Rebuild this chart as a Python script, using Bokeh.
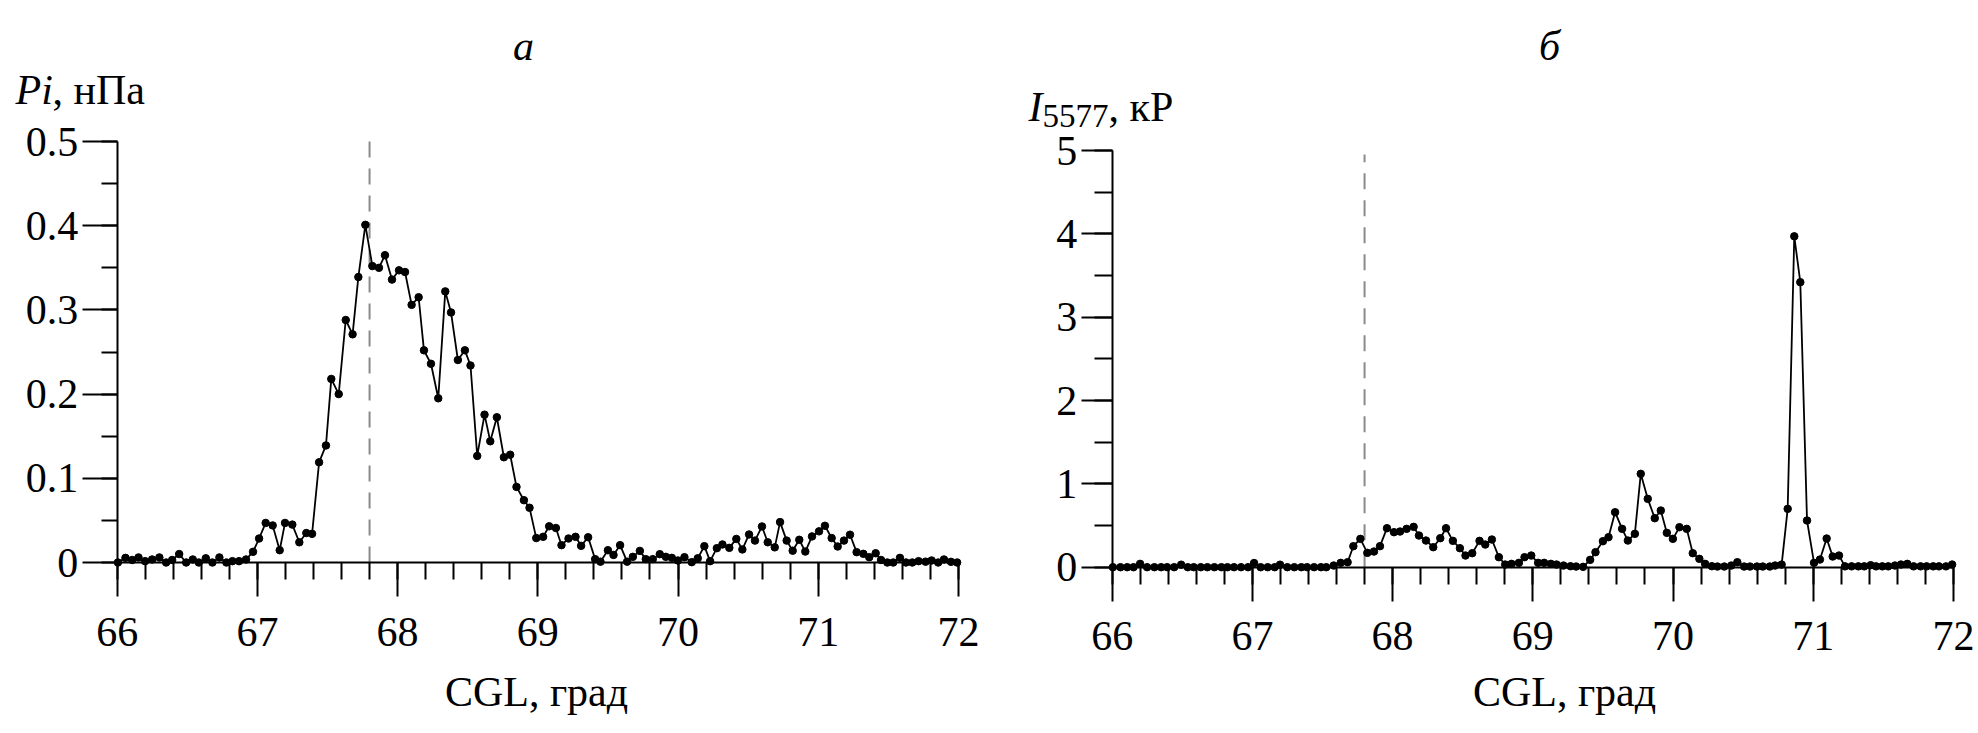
from bokeh.plotting import figure
from bokeh.models import Range1d, FixedTicker, Label
from bokeh.layouts import row
from bokeh.embed import file_html
from bokeh.resources import INLINE

# ---------------- data ----------------
cgl = [
    66.005, 66.059, 66.107, 66.152, 66.199, 66.249, 66.301, 66.349, 66.392, 66.442,
    66.492, 66.539, 66.582, 66.632, 66.679, 66.729, 66.779, 66.822, 66.869, 66.919,
    66.969, 67.012, 67.059, 67.109, 67.159, 67.197, 67.249, 67.299, 67.349, 67.390,
    67.440, 67.489, 67.527, 67.580, 67.630, 67.679, 67.720, 67.770, 67.820, 67.867,
    67.910, 67.960, 68.010, 68.053, 68.100, 68.150, 68.188, 68.238, 68.290, 68.340,
    68.381, 68.430, 68.480, 68.520, 68.568, 68.620, 68.661, 68.708, 68.758, 68.803,
    68.848, 68.901, 68.941, 68.989, 69.038, 69.081, 69.129, 69.169, 69.219, 69.269,
    69.309, 69.359, 69.409, 69.447, 69.500, 69.540, 69.587, 69.637, 69.678, 69.728,
    69.770, 69.820, 69.870, 69.913, 69.956, 69.999, 70.046, 70.098, 70.141, 70.188,
    70.229, 70.277, 70.317, 70.366, 70.416, 70.459, 70.507, 70.549, 70.599, 70.640,
    70.690, 70.728, 70.775, 70.818, 70.865, 70.908, 70.956, 71.006, 71.048, 71.096,
    71.139, 71.184, 71.227, 71.274, 71.322, 71.364, 71.410, 71.448, 71.493, 71.535,
    71.583, 71.626, 71.671, 71.716, 71.766, 71.809, 71.856, 71.897, 71.947, 71.991,
]

pi_npa = [
    0.000, 0.0055, 0.003, 0.006, 0.0016, 0.0036, 0.006, 0.000, 0.003, 0.010,
    0.000, 0.0036, 0.000, 0.005, 0.000, 0.006, 0.000, 0.0016, 0.0016, 0.0036,
    0.0127, 0.0285, 0.047, 0.044, 0.0146, 0.047, 0.045, 0.024, 0.035, 0.034,
    0.119, 0.139, 0.218, 0.200, 0.288, 0.271, 0.339, 0.401, 0.352, 0.350,
    0.365, 0.336, 0.347, 0.345, 0.306, 0.315, 0.252, 0.236, 0.195, 0.322,
    0.297, 0.2405, 0.252, 0.234, 0.1266, 0.1756, 0.144, 0.1725, 0.125, 0.128,
    0.0898, 0.074, 0.065, 0.029, 0.0305, 0.043, 0.041, 0.0206, 0.0285, 0.0305,
    0.0198, 0.030, 0.004, 0.001, 0.0146, 0.009, 0.0206, 0.001, 0.0067, 0.0138,
    0.004, 0.004, 0.0099, 0.0067, 0.0055, 0.0024, 0.0063, 0.0004, 0.005, 0.0194,
    0.0016, 0.017, 0.0214, 0.0174, 0.028, 0.0155, 0.0333, 0.026, 0.0428, 0.024,
    0.018, 0.048, 0.026, 0.014, 0.027, 0.013, 0.031, 0.037, 0.0436, 0.029,
    0.019, 0.026, 0.033, 0.0123, 0.0103, 0.0063, 0.011, 0.003, 0.000, 0.000,
    0.0055, 0.000, 0.000, 0.0016, 0.001, 0.0024, 0.000, 0.0036, 0.0008, 0.000,
]

i5577_kr = [
    0, 0, 0, 0, 0.04, 0, 0, 0, 0, 0,
    0.03, 0, 0, 0, 0, 0, 0, 0, 0, 0,
    0, 0.05, 0, 0, 0, 0.03, 0, 0, 0, 0,
    0, 0, 0, 0.02, 0.052, 0.06, 0.252, 0.34, 0.172, 0.188,
    0.252, 0.468, 0.42, 0.428, 0.46, 0.484, 0.38, 0.32, 0.24, 0.348,
    0.468, 0.316, 0.228, 0.14, 0.168, 0.316, 0.272, 0.332, 0.12, 0.032,
    0.04, 0.052, 0.12, 0.14, 0.052, 0.052, 0.04, 0.032, 0.02, 0.012,
    0.008, 0.004, 0.088, 0.18, 0.312, 0.36, 0.66, 0.46, 0.32, 0.40,
    1.12, 0.82, 0.588, 0.68, 0.412, 0.34, 0.48, 0.46, 0.168, 0.10,
    0.04, 0.012, 0.008, 0.008, 0.02, 0.06, 0.008, 0.008, 0.008, 0.008,
    0.008, 0.02, 0.032, 0.70, 3.97, 3.42, 0.56, 0.052, 0.092, 0.344,
    0.128, 0.14, 0.01, 0.01, 0.01, 0.01, 0.024, 0.01, 0.01, 0.01,
    0.02, 0.032, 0.04, 0.01, 0.01, 0.01, 0.01, 0.01, 0.01, 0.032,
]

marker_cgl = 67.8

x_ticks = [66, 67, 68, 69, 70, 71, 72]
x_tick_labels = ["66", "67", "68", "69", "70", "71", "72"]
x_minor_ticks = [round(66 + 0.2 * k, 1) for k in range(31)]

pi_ticks = [0, 0.1, 0.2, 0.3, 0.4, 0.5]
pi_tick_labels = ["0", "0.1", "0.2", "0.3", "0.4", "0.5"]
pi_minor_ticks = [round(0.05 * k, 2) for k in range(11)]

i_ticks = [0, 1, 2, 3, 4, 5]
i_tick_labels = ["0", "1", "2", "3", "4", "5"]
i_minor_ticks = [0.5 * k for k in range(11)]

panel_a_title = "а"
panel_b_title = "б"
x_label = "CGL, град"

# ---------------- styling / layout ----------------
FONT = "Liberation Serif"
TICK_FS = "42px"
LABEL_FS = "42px"
H = 733
KX = 140.2   # px per degree
LIFT = 16    # labels are drawn this much lower than their anchor


class Panel:
    """A figure whose frame fills the whole canvas; axes sit at fixed data spots."""

    def __init__(self, width, x66_px, ytop_px, y0_px, ytop_val):
        self.kx = KX
        self.ky = (y0_px - ytop_px) / ytop_val
        self.xs = 66 - x66_px / self.kx
        self.xe = self.xs + width / self.kx
        self.ye = ytop_val + ytop_px / self.ky
        self.ys = self.ye - H / self.ky
        p = figure(width=width, height=H, frame_width=width, frame_height=H,
                   x_range=Range1d(self.xs, self.xe), y_range=Range1d(self.ys, self.ye),
                   min_border=0, min_border_left=0, min_border_right=0,
                   min_border_top=0, min_border_bottom=0,
                   toolbar_location=None, output_backend="svg")
        p.background_fill_color = "white"
        p.border_fill_color = "white"
        p.outline_line_color = None
        p.xgrid.visible = False
        p.ygrid.visible = False
        self.p = p

    def dx(self, fx):
        return self.xs + fx / self.kx

    def dy(self, fy):
        return self.ye - fy / self.ky

    def label(self, fx, fy, text, size=LABEL_FS, style="normal", align="left"):
        self.p.add_layout(Label(x=self.dx(fx), y=self.dy(fy - LIFT), text=text,
                                text_font=FONT, text_font_size=size,
                                text_font_style=style, text_align=align,
                                text_baseline="alphabetic", text_color="black"))

    def axes(self, y_ticks, y_labels, y_minor, ybounds, ytick_out, yminor_out):
        p = self.p
        xa = p.xaxis[0]
        ya = p.yaxis[0]
        xa.ticker = FixedTicker(ticks=x_ticks, minor_ticks=x_minor_ticks)
        xa.major_label_overrides = dict(zip(x_ticks, x_tick_labels))
        xa.fixed_location = 0
        xa.bounds = (66, 72)
        ya.ticker = FixedTicker(ticks=y_ticks, minor_ticks=y_minor)
        ya.major_label_overrides = dict(zip(y_ticks, y_labels))
        ya.fixed_location = 66
        ya.bounds = ybounds
        for ax in (xa, ya):
            ax.axis_line_color = "black"
            ax.axis_line_width = 2
            ax.major_tick_line_color = "black"
            ax.minor_tick_line_color = "black"
            ax.major_tick_line_width = 2
            ax.minor_tick_line_width = 2
            ax.major_tick_in = 0
            ax.minor_tick_in = 0
            ax.major_label_text_font = FONT
            ax.major_label_text_font_size = TICK_FS
            ax.major_label_text_color = "black"
        xa.major_tick_out = 34
        xa.minor_tick_out = 17
        xa.major_label_standoff = 21
        ya.major_tick_out = ytick_out
        ya.minor_tick_out = yminor_out
        ya.major_label_standoff = 4


# ---------------- panel a (page pixels: the page has no margin) ----------------
WL = 985
A = Panel(WL, x66_px=116.7, ytop_px=141, y0_px=562, ytop_val=0.5)
A.axes(pi_ticks, pi_tick_labels, pi_minor_ticks, (0, 0.5), 35, 16)
pa = A.p
pa.segment(x0=[marker_cgl], y0=[0], x1=[marker_cgl], y1=[A.dy(136)],
           line_color="#8a8a8a", line_width=2, line_dash="16 11")
pa.line(cgl, pi_npa, line_color="black", line_width=1.8)
pa.scatter(cgl, pi_npa, size=7.5, color="black")
A.label(523, 61, panel_a_title, style="italic", align="center")
A.label(15, 105, "Pi", style="italic")
A.label(52, 105, ", нПа")
A.label(536, 707, x_label, align="center")

# ---------------- panel b ----------------
WR = 993
XB = WL  # page x where panel b starts
B = Panel(WR, x66_px=1111.7 - XB, ytop_px=150, y0_px=566.7, ytop_val=5.0)
B.axes(i_ticks, i_tick_labels, i_minor_ticks, (0, 5), 31, 18)
pb = B.p
pb.segment(x0=[marker_cgl], y0=[0], x1=[marker_cgl], y1=[B.dy(154)],
           line_color="#8a8a8a", line_width=2, line_dash="16 11")
pb.line(cgl, i5577_kr, line_color="black", line_width=1.8)
pb.scatter(cgl, i5577_kr, size=7.5, color="black")
B.label(1549 - XB, 61, panel_b_title, style="italic", align="center")
B.label(1028 - XB, 122, "I", style="italic")
B.label(1042 - XB, 131, "5577", size="33px")
B.label(1108 - XB, 122, ", кР")
B.label(1564 - XB, 707, x_label, align="center")

layout = row(pa, pb, spacing=0)
open("out.html", "w").write(file_html(layout, INLINE))
